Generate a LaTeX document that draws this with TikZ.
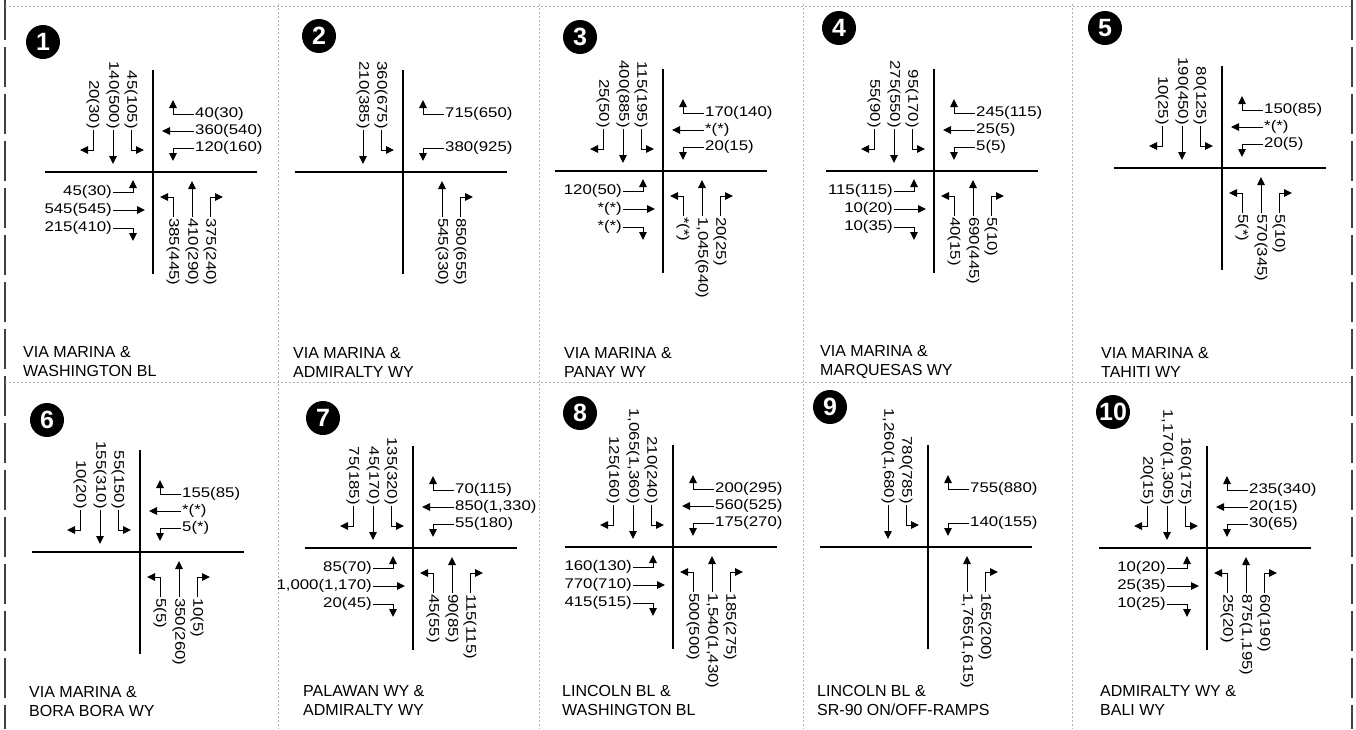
\documentclass[tikz,border=0pt]{standalone}
\usepackage{fontspec}
\usepackage{etoolbox}
\usetikzlibrary{arrows.meta}
\setmainfont{Liberation Sans}
\newfontfamily\volfam[FakeStretch=1.2]{Liberation Sans}
\newcommand{\volfont}{\volfam\fontsize{14}{16}\selectfont}
\newcommand{\streetfont}{\fontsize{16}{19}\selectfont}
\newcommand{\badgefont}{\fontsize{25}{25}\selectfont\bfseries}

\tikzset{
  road/.style={line width=1.8pt},
  mv/.style={line width=1pt, -{Triangle[length=8pt,width=7.5pt]}},
  vol/.style={font=\volfont, inner sep=1pt},
  badge/.style={circle, fill=black, text=white, minimum size=34pt, inner sep=0pt, font=\badgefont},
  street/.style={font=\streetfont, align=left, anchor=west, inner sep=0pt},
  panelrule/.style={gray!60, line width=0.6pt, dash pattern=on 2pt off 2pt},
  edgerule/.style={black!75, line width=1.3pt, dash pattern=on 40pt off 7pt}
}

% the two streets of one intersection
\newcommand{\crossing}{%
  \draw[road] (-108,0) -- (104,0);
  \draw[road] (0,-102) -- (0,102);}

% southbound: left, through, right
\newcommand{\sbapp}[4]{%
  \ifblank{#2}{}{%
    \node[vol, rotate=-90, anchor=east] (#1-sbL) at (-22,-42) {#2};
    \draw[mv] (#1-sbL.east) |- (-9,-22);}%
  \ifblank{#3}{}{%
    \node[vol, rotate=-90, anchor=east] (#1-sbT) at (-40,-42) {#3};
    \draw[mv] (#1-sbT.east) -- (-40,-8);}%
  \ifblank{#4}{}{%
    \node[vol, rotate=-90, anchor=east] (#1-sbR) at (-60,-42) {#4};
    \draw[mv] (#1-sbR.east) |- (-73,-22);}%
}

% westbound: right, through, left
\newcommand{\wbapp}[4]{%
  \ifblank{#2}{}{%
    \node[vol, anchor=west] (#1-wbR) at (41,-58) {#2};
    \draw[mv] (#1-wbR.west) -| (20,-72);}%
  \ifblank{#3}{}{%
    \node[vol, anchor=west] (#1-wbT) at (41,-41) {#3};
    \draw[mv] (#1-wbT.west) -- (9,-41);}%
  \ifblank{#4}{}{%
    \node[vol, anchor=west] (#1-wbL) at (41,-24) {#4};
    \draw[mv] (#1-wbL.west) -| (20,-11);}%
}

% eastbound: left, through, right
\newcommand{\ebapp}[4]{%
  \ifblank{#2}{}{%
    \node[vol, anchor=east] (#1-ebL) at (-40,20) {#2};
    \draw[mv] (#1-ebL.east) -| (-20,8);}%
  \ifblank{#3}{}{%
    \node[vol, anchor=east] (#1-ebT) at (-40,38) {#3};
    \draw[mv] (#1-ebT.east) -- (-8,38);}%
  \ifblank{#4}{}{%
    \node[vol, anchor=east] (#1-ebR) at (-40,56) {#4};
    \draw[mv] (#1-ebR.east) -| (-20,69);}%
}

% northbound: left, through, right
\newcommand{\nbapp}[4]{%
  \ifblank{#2}{}{%
    \node[vol, rotate=-90, anchor=west] (#1-nbL) at (20,45) {#2};
    \draw[mv] (#1-nbL.west) |- (7,25);}%
  \ifblank{#3}{}{%
    \node[vol, rotate=-90, anchor=west] (#1-nbT) at (39,45) {#3};
    \draw[mv] (#1-nbT.west) -- (39,9);}%
  \ifblank{#4}{}{%
    \node[vol, rotate=-90, anchor=west] (#1-nbR) at (57,45) {#4};
    \draw[mv] (#1-nbR.west) |- (70,25);}%
}

\begin{document}
\begin{tikzpicture}[x=1pt, y=-1pt]

    \useasboundingbox (0,0) rectangle (1356,729);

    % Panel frame
    \draw[edgerule] (5,0) -- (5,729);
    \draw[edgerule] (1352,0) -- (1352,729);
    \foreach \x in {278,539,803,1072} {
        \draw[panelrule] (\x,4) -- (\x,729);
    }
    \draw[panelrule] (5,6) -- (1352,6);
    \draw[panelrule] (5,382) -- (1352,382);

    % 1
    \begin{scope}[shift={(153,172)}]
        \crossing
        \sbapp{p1}{45(105)}{140(500)}{20(30)}
        \wbapp{p1}{40(30)}{360(540)}{120(160)}
        \ebapp{p1}{45(30)}{545(545)}{215(410)}
        \nbapp{p1}{385(445)}{410(290)}{375(240)}
    \end{scope}
    \node[badge] (p1-num) at (43,42) {1};
    \node[street] (p1-name) at (23,362) {VIA MARINA \&\\WASHINGTON BL};

    % 2
    \begin{scope}[shift={(403,172)}]
        \crossing
        \sbapp{p2}{360(675)}{210(385)}{}
        \wbapp{p2}{715(650)}{}{380(925)}
        \nbapp{p2}{}{545(330)}{850(655)}
    \end{scope}
    \node[badge] (p2-num) at (319,36) {2};
    \node[street] (p2-name) at (293,362) {VIA MARINA \&\\ADMIRALTY WY};

    % 3
    \begin{scope}[shift={(663,171)}]
        \crossing
        \sbapp{p3}{115(195)}{400(885)}{25(50)}
        \wbapp{p3}{170(140)}{*(*)}{20(15)}
        \ebapp{p3}{120(50)}{*(*)}{*(*)}
        \nbapp{p3}{*(*)}{1,045(640)}{20(25)}
    \end{scope}
    \node[badge] (p3-num) at (580,37) {3};
    \node[street] (p3-name) at (564,362) {VIA MARINA \&\\PANAY WY};

    % 4
    \begin{scope}[shift={(934,171)}]
        \crossing
        \sbapp{p4}{95(170)}{275(550)}{55(90)}
        \wbapp{p4}{245(115)}{25(5)}{5(5)}
        \ebapp{p4}{115(115)}{10(20)}{10(35)}
        \nbapp{p4}{40(15)}{690(445)}{5(10)}
    \end{scope}
    \node[badge] (p4-num) at (839,28) {4};
    \node[street] (p4-name) at (820,362) {VIA MARINA \&\\MARQUESAS WY};

    % 5
    \begin{scope}[shift={(1222,168)}]
        \crossing
        \sbapp{p5}{80(125)}{190(450)}{10(25)}
        \wbapp{p5}{150(85)}{*(*)}{20(5)}
        \nbapp{p5}{5(*)}{570(345)}{5(10)}
    \end{scope}
    \node[badge] (p5-num) at (1105,28) {5};
    \node[street] (p5-name) at (1101,362) {VIA MARINA \&\\TAHITI WY};

    % 6
    \begin{scope}[shift={(140,552)}]
        \crossing
        \sbapp{p6}{55(150)}{155(310)}{10(20)}
        \wbapp{p6}{155(85)}{*(*)}{5(*)}
        \nbapp{p6}{5(5)}{350(260)}{10(5)}
    \end{scope}
    \node[badge] (p6-num) at (47,420) {6};
    \node[street] (p6-name) at (29,702) {VIA MARINA \&\\BORA BORA WY};

    % 7
    \begin{scope}[shift={(413,548)}]
        \crossing
        \sbapp{p7}{135(320)}{45(170)}{75(185)}
        \wbapp{p7}{70(115)}{850(1,330)}{55(180)}
        \ebapp{p7}{85(70)}{1,000(1,170)}{20(45)}
        \nbapp{p7}{45(55)}{90(85)}{115(115)}
    \end{scope}
    \node[badge] (p7-num) at (323,418) {7};
    \node[street] (p7-name) at (303,700) {PALAWAN WY \&\\ADMIRALTY WY};

    % 8
    \begin{scope}[shift={(673,547)}]
        \crossing
        \sbapp{p8}{210(240)}{1,065(1,360)}{125(160)}
        \wbapp{p8}{200(295)}{560(525)}{175(270)}
        \ebapp{p8}{160(130)}{770(710)}{415(515)}
        \nbapp{p8}{500(500)}{1,540(1,430)}{185(275)}
    \end{scope}
    \node[badge] (p8-num) at (580,413) {8};
    \node[street] (p8-name) at (562,700) {LINCOLN BL \&\\WASHINGTON BL};

    % 9
    \begin{scope}[shift={(928,547)}]
        \crossing
        \sbapp{p9}{780(785)}{1,260(1,680)}{}
        \wbapp{p9}{755(880)}{}{140(155)}
        \nbapp{p9}{}{1,765(1,615)}{165(200)}
    \end{scope}
    \node[badge] (p9-num) at (830,407) {9};
    \node[street] (p9-name) at (817,700) {LINCOLN BL \&\\SR-90 ON/OFF-RAMPS};

    % 10
    \begin{scope}[shift={(1207,548)}]
        \crossing
        \sbapp{p10}{160(175)}{1,170(1,305)}{20(15)}
        \wbapp{p10}{235(340)}{20(15)}{30(65)}
        \ebapp{p10}{10(20)}{25(35)}{10(25)}
        \nbapp{p10}{25(20)}{875(1,195)}{60(190)}
    \end{scope}
    \node[badge] (p10-num) at (1113,412) {10};
    \node[street] (p10-name) at (1100,700) {ADMIRALTY WY \&\\BALI WY};

\end{tikzpicture}
\end{document}
